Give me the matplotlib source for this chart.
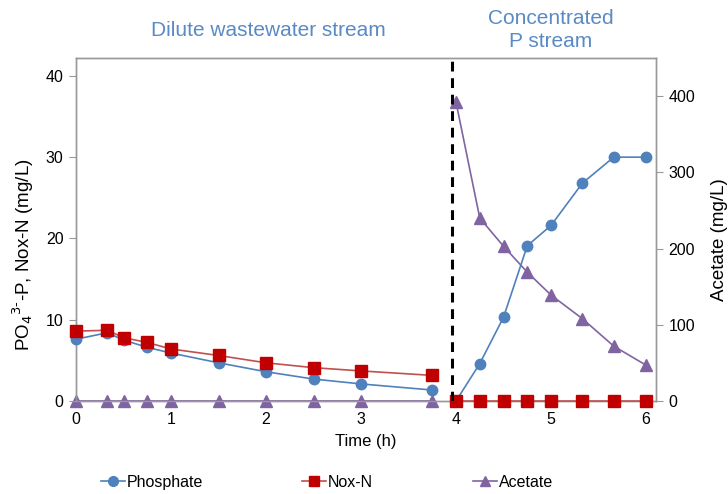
import matplotlib
matplotlib.use("Agg")
import matplotlib.pyplot as plt
from matplotlib.lines import Line2D

plt.rcParams['font.family'] = ['Liberation Sans', 'DejaVu Sans']

# Dilute wastewater stream phase
time_dilute = [0, 0.33, 0.5, 0.75, 1.0, 1.5, 2.0, 2.5, 3.0, 3.75]
phosphate_dilute = [7.6, 8.4, 7.5, 6.6, 5.9, 4.7, 3.6, 2.7, 2.1, 1.35]
nox_dilute = [8.6, 8.7, 7.8, 7.2, 6.4, 5.6, 4.7, 4.1, 3.7, 3.15]
acetate_dilute = [0, 0, 0, 0, 0, 0, 0, 0, 0, 0]

# Concentrated P stream phase
time_conc = [4.0, 4.25, 4.5, 4.75, 5.0, 5.33, 5.66, 6.0]
phosphate_conc = [0, 4.6, 10.3, 19.1, 21.6, 26.8, 30.0, 30.0]
nox_conc = [0, 0, 0, 0, 0, 0, 0, 0]
acetate_conc = [392, 240, 203, 169, 139, 108, 72, 47]

switch_time = 3.955

x_ticks = [0, 1, 2, 3, 4, 5, 6]
left_ticks = [0, 10, 20, 30, 40]
right_ticks = [0, 100, 200, 300, 400]

c_p = '#4F81BD'
c_nox_line = '#C0504D'
c_nox_mk = '#C00000'
c_ac = '#8064A2'
spine_c = '#999999'
title_c = '#5A8AC6'

fig = plt.figure(figsize=(7.28, 4.94), dpi=100)
ax = fig.add_axes([76/728, 1 - 401/494, (656-76)/728, (401-58)/494])
ax2 = ax.twinx()

for t, v in ((time_dilute, phosphate_dilute), (time_conc, phosphate_conc)):
    ax.plot(t, v, color=c_p, lw=1.2, marker='o', ms=7.5, mfc=c_p, mec=c_p, zorder=4,
            clip_on=False)
for t, v in ((time_dilute, nox_dilute), (time_conc, nox_conc)):
    ax.plot(t, v, color=c_nox_line, lw=1.2, marker='s', ms=8, mfc=c_nox_mk, mec=c_nox_mk,
            zorder=5, clip_on=False)
for t, v in ((time_dilute, acetate_dilute), (time_conc, acetate_conc)):
    ax2.plot(t, v, color=c_ac, lw=1.2, marker='^', ms=8, mfc=c_ac, mec=c_ac, zorder=3,
             clip_on=False)

ax.axvline(switch_time, color='black', lw=2.2, ls=(0, (3.2, 2.2)), zorder=6)

ax.set_xlim(0, 6.105)
ax.set_ylim(0, 42.2)
ax2.set_ylim(0, 450)
ax.set_xticks(x_ticks)
ax.set_yticks(left_ticks)
ax2.set_yticks(right_ticks)

ax.set_zorder(ax2.get_zorder() + 1)
ax.patch.set_visible(False)

for a in (ax, ax2):
    for s in a.spines.values():
        s.set_color(spine_c)
        s.set_linewidth(1.0)
ax.tick_params(axis='x', length=0, labelsize=11.5, pad=8)
ax.tick_params(axis='y', length=5, color=spine_c, labelsize=11.5, pad=4)
ax2.tick_params(axis='y', length=5, color=spine_c, labelsize=11.5, pad=4)

ax.set_xlabel('Time (h)', fontsize=12, labelpad=5)

# Axis titles placed as free text
fig.text(23/728, 1 - 255/494, r'PO$_4$$^{3\text{-}}$-P, Nox-N (mg/L)', fontsize=13.5,
         rotation=90, ha='center', va='center')
fig.text(719.5/728, 1 - 240/494, 'Acetate (mg/L)', fontsize=13.5,
         rotation=90, ha='center', va='center')

fig.text(268/728, 1 - 30/494, 'Dilute wastewater stream', color=title_c,
         fontsize=15, ha='center', va='center')
fig.text(551/728, 1 - 30/494, 'Concentrated\nP stream', color=title_c,
         fontsize=15, ha='center', va='center', linespacing=1.3)

# Legend entries below the plot, one per series
entries = [
    (Line2D([], [], color=c_p, lw=1.2, marker='o', ms=7, mfc=c_p, mec=c_p),
     'Phosphate', 101),
    (Line2D([], [], color=c_nox_line, lw=1.2, marker='s', ms=7, mfc=c_nox_mk, mec=c_nox_mk),
     'Nox-N', 302),
    (Line2D([], [], color=c_ac, lw=1.2, marker='^', ms=7.5, mfc=c_ac, mec=c_ac),
     'Acetate', 473),
]
for handle, label, xpix in entries:
    fig.legend([handle], [label], loc='center left',
               bbox_to_anchor=(xpix/728, 1 - 482/494), frameon=False, fontsize=11.5,
               handlelength=1.5, handletextpad=0.1, borderpad=0, borderaxespad=0)

fig.savefig('out.png', dpi=100)
